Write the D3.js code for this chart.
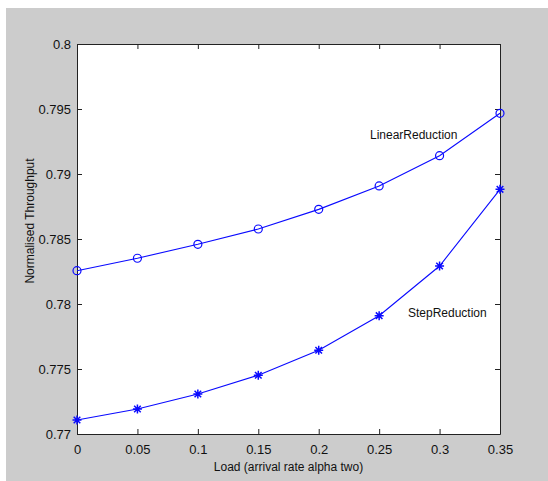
<!DOCTYPE html>
<html>
<head>
<meta charset="utf-8">
<script src="https://cdn.jsdelivr.net/npm/d3@7"></script>
<style>
  body { margin: 0; background: #fff; }
  text { font-family: "Liberation Sans", Arial, sans-serif; fill: #111; }
</style>
</head>
<body>
<div id="app"></div>
<script>
// data
const loads = [0, 0.05, 0.1, 0.15, 0.2, 0.25, 0.3, 0.35]
const linearRed = [0.78256, 0.78352, 0.78459, 0.78577, 0.78728, 0.78908, 0.79141, 0.79467]
const stepRed = [0.77108, 0.77192, 0.77308, 0.77452, 0.77644, 0.77910, 0.78292, 0.78882]
const xTicks = [0, 0.05, 0.1, 0.15, 0.2, 0.25, 0.3, 0.35]
const yTicks = [0.77, 0.775, 0.78, 0.785, 0.79, 0.795, 0.8]

var w = 548
var h = 481
const box = {left: 77, right: 500, top: 44, bottom: 434}

const svg = d3.select("#app")
    .append("svg")
    .attr("width", w)
    .attr("height", h)

// figure background
svg.append("rect")
    .attr("x", 6).attr("y", 8)
    .attr("width", w - 6).attr("height", h - 8)
    .attr("fill", "#cccccc")

svg.append("rect")
    .attr("x", box.left).attr("y", box.top)
    .attr("width", box.right - box.left)
    .attr("height", box.bottom - box.top)
    .attr("fill", "#fff")

const x = d3.scaleLinear().domain([0, 0.35]).range([box.left, box.right])
const y = d3.scaleLinear().domain([0.77, 0.8]).range([box.bottom, box.top])

const fmt = d => String(+d.toFixed(3))

// bottom & left with labels, ticks inward (matlab box)
const xAxis = d3.axisBottom(x).tickValues(xTicks).tickFormat(fmt).tickSizeInner(-5).tickSizeOuter(0).tickPadding(11)
const yAxis = d3.axisLeft(y).tickValues(yTicks).tickFormat(fmt).tickSizeInner(-5).tickSizeOuter(0).tickPadding(6)
const xTop = d3.axisTop(x).tickValues(xTicks).tickFormat("").tickSizeInner(-5).tickSizeOuter(0)
const yRight = d3.axisRight(y).tickValues(yTicks).tickFormat("").tickSizeInner(-5).tickSizeOuter(0)

function styleAxis(g) {
    g.selectAll("path").attr("stroke", "#222")
    g.selectAll("line").attr("stroke", "#222")
    g.selectAll("text")
        .style("font-family", "'Liberation Sans', Arial, sans-serif")
        .style("font-size", "13px")
        .attr("fill", "#222")
}

svg.append("g").attr("transform", "translate(0," + box.bottom + ")").call(xAxis).call(styleAxis)
svg.append("g").attr("transform", "translate(" + box.left + ",0)").call(yAxis).call(styleAxis)
svg.append("g").attr("transform", "translate(0," + box.top + ")").call(xTop).call(styleAxis)
svg.append("g").attr("transform", "translate(" + box.right + ",0)").call(yRight).call(styleAxis)

const line = d3.line().x((d, i) => x(loads[i])).y(d => y(d))

const blue = "#0a0aff"

svg.append("path").datum(linearRed)
    .attr("d", line).attr("fill", "none").attr("stroke", blue).attr("stroke-width", 1.1)
svg.append("path").datum(stepRed)
    .attr("d", line).attr("fill", "none").attr("stroke", blue).attr("stroke-width", 1.1)

svg.selectAll(".circ").data(linearRed).enter()
    .append("circle")
    .attr("class", "circ")
    .attr("cx", (d, i) => x(loads[i]))
    .attr("cy", d => y(d))
    .attr("r", 4)
    .attr("fill", "none")
    .attr("stroke", blue)
    .attr("stroke-width", 1.2)

const star = d3.symbol().type({
    draw(ctx, size) {
        const r = 4.5, s = 3.3
        ctx.moveTo(-r, 0); ctx.lineTo(r, 0)
        ctx.moveTo(0, -r); ctx.lineTo(0, r)
        ctx.moveTo(-s, -s); ctx.lineTo(s, s)
        ctx.moveTo(-s, s); ctx.lineTo(s, -s)
    }
})

svg.selectAll(".star").data(stepRed).enter()
    .append("path")
    .attr("class", "star")
    .attr("transform", (d, i) => "translate(" + x(loads[i]) + "," + y(d) + ")")
    .attr("d", star())
    .attr("fill", "none")
    .attr("stroke", blue)
    .attr("stroke-width", 1.5)

// series labels
svg.append("text")
    .attr("x", 370).attr("y", 139)
    .style("font-size", "12px")
    .text("LinearReduction")
svg.append("text")
    .attr("x", 408).attr("y", 317)
    .style("font-size", "12px")
    .text("StepReduction")

// axis titles
svg.append("text")
    .attr("x", (box.left + box.right) / 2).attr("y", 471)
    .attr("text-anchor", "middle")
    .style("font-size", "12px")
    .text("Load (arrival rate alpha two)")

svg.append("text")
    .attr("transform", "translate(34," + 221 + ") rotate(-90)")
    .attr("text-anchor", "middle")
    .style("font-size", "12px")
    .text("Normalised Throughput")
</script>
</body>
</html>
